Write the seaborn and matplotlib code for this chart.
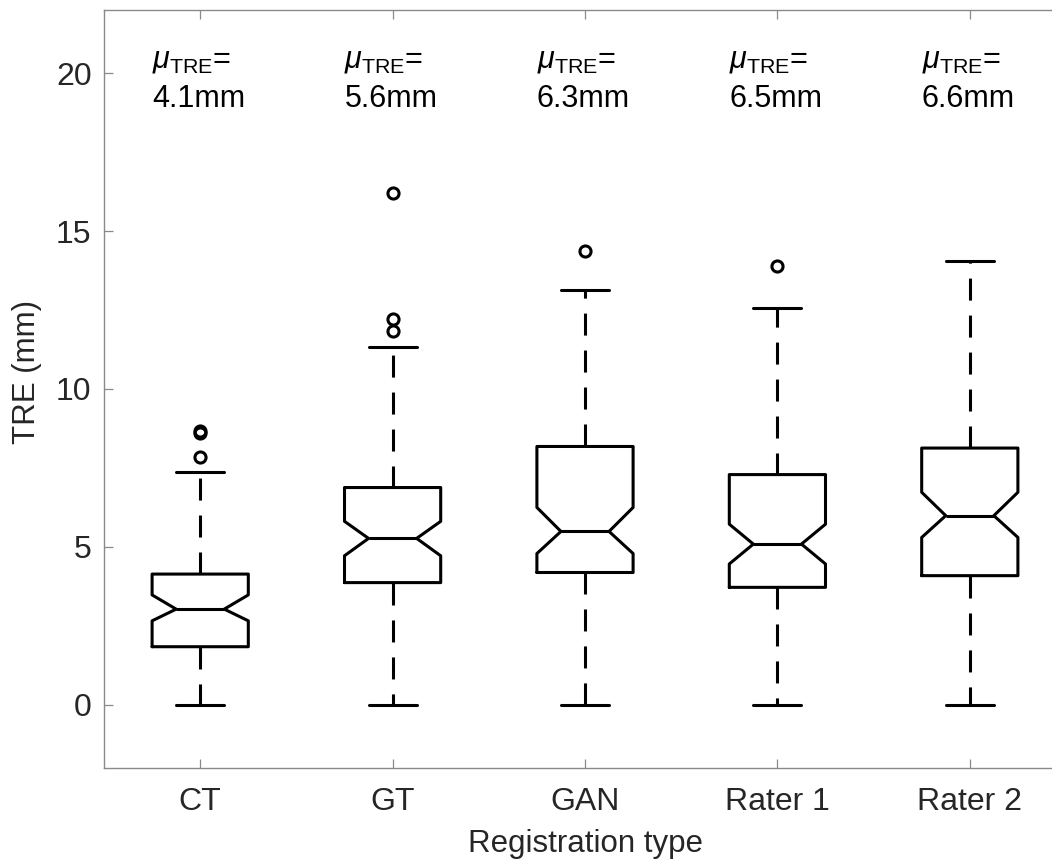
import matplotlib
matplotlib.use("Agg")
import matplotlib.pyplot as plt
import seaborn as sns

# Registration methods and their target registration error (TRE) summaries, in mm
categories = ["CT", "GT", "GAN", "Rater 1", "Rater 2"]
q1 = [1.84, 3.87, 4.19, 3.72, 4.09]
medians = [3.03, 5.27, 5.49, 5.09, 5.99]
q3 = [4.14, 6.88, 8.18, 7.29, 8.13]
notch_lo = [2.66, 4.72, 4.79, 4.46, 5.30]
notch_hi = [3.48, 5.81, 6.25, 5.72, 6.73]
whisker_lo = [0.0, 0.0, 0.0, 0.0, 0.0]
whisker_hi = [7.36, 11.32, 13.15, 12.58, 14.04]
outliers = [[7.86, 8.60, 8.68], [11.85, 12.22, 16.20], [14.36], [13.90], []]
mean_tre = [4.1, 5.6, 6.3, 6.5, 6.6]
y_ticks = [0, 5, 10, 15, 20]

sns.set_theme(style="ticks")
plt.rcParams["font.family"] = ["Liberation Sans", "DejaVu Sans"]
plt.rcParams["mathtext.fontset"] = "custom"
plt.rcParams["mathtext.rm"] = "Liberation Sans"
plt.rcParams["mathtext.it"] = "Liberation Sans:italic"
plt.rcParams["mathtext.default"] = "regular"

W, H = 1052, 863
fig = plt.figure(figsize=(W / 100, H / 100), dpi=100)
ax = fig.add_axes([104 / W, 95 / H, 962 / W, 758 / H])

positions = list(range(1, len(categories) + 1))
stats = []
for i, name in enumerate(categories):
    stats.append(dict(
        label=name, q1=q1[i], med=medians[i], q3=q3[i],
        cilo=notch_lo[i], cihi=notch_hi[i],
        whislo=whisker_lo[i], whishi=whisker_hi[i],
        fliers=outliers[i], mean=mean_tre[i],
    ))

lw = 2.2
ax.bxp(
    stats, positions=positions, widths=0.5, capwidths=0.25,
    shownotches=True, showfliers=True, patch_artist=False,
    boxprops=dict(color="black", linewidth=lw),
    medianprops=dict(color="black", linewidth=lw),
    whiskerprops=dict(color="black", linewidth=lw, linestyle=(0, (7.2, 4.9))),
    capprops=dict(color="black", linewidth=lw),
    flierprops=dict(marker="o", markerfacecolor="none", markeredgecolor="black",
                    markersize=8, markeredgewidth=2.2, linestyle="none"),
)

# mean TRE annotations above each box
for pos, m in zip(positions, mean_tre):
    ax.text(pos - 0.25, 20.18, r"$\mathit{\mu}_{TRE}$=", fontsize=22,
            color="black", ha="left", va="baseline")
    ax.text(pos - 0.25, 18.93, f"{m:.1f}mm", fontsize=22,
            color="black", ha="left", va="baseline")

ax.set_xlim(0.5, 5.5)
ax.set_ylim(-2, 22)
ax.set_xticks(positions)
ax.set_xticklabels(categories)
ax.set_yticks(y_ticks)

axis_gray = "#8a8a8a"
text_dark = "#262626"
for sp in ax.spines.values():
    sp.set_visible(True)
    sp.set_color(axis_gray)
    sp.set_linewidth(1.0)
ax.tick_params(axis="both", direction="in", length=6.5, width=0.9,
               color=axis_gray, labelcolor=text_dark, labelsize=23,
               top=True, right=True)
ax.tick_params(axis="x", pad=14)
ax.tick_params(axis="y", pad=9)
ax.grid(False)

ax.set_xlabel("Registration type", fontsize=22.5, color=text_dark, labelpad=8)
ax.set_ylabel("TRE (mm)", fontsize=22.5, color=text_dark, labelpad=10)
ax.yaxis.label.set_y(0.522)

fig.savefig("out.png", dpi=100)
